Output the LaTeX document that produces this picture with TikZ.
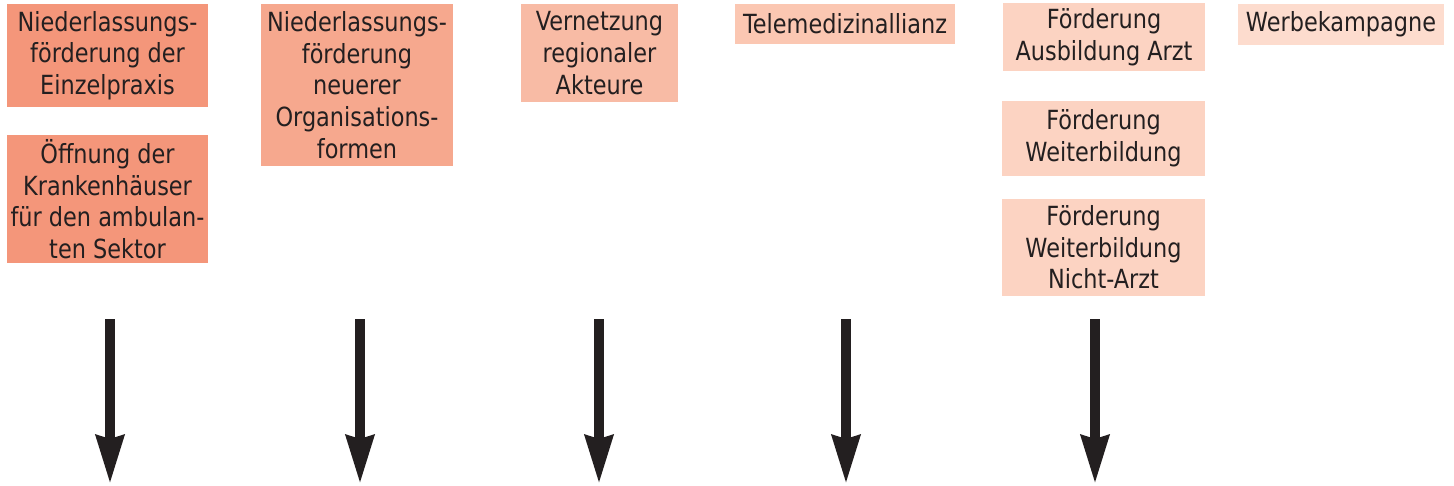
\documentclass[tikz,border=0pt]{standalone}
\usepackage{fontspec}
\setmainfont{DejaVu Sans}[FakeStretch=0.85]
\usetikzlibrary{arrows.meta}
\newlength\pxu
\setlength\pxu{0.02cm}
\definecolor{ink}{HTML}{231F20}
\definecolor{tone1}{HTML}{F4967A}
\definecolor{tone2}{HTML}{F6A88E}
\definecolor{tone3}{HTML}{F8BBA5}
\definecolor{tone4}{HTML}{FBC7B2}
\definecolor{tone5}{HTML}{FCD3C2}
\definecolor{tone6}{HTML}{FDDCCE}
\tikzset{
  measure/.style={inner sep=0pt, align=center, text=ink,
    font={\fontsize{15}{18}\selectfont}},
  downarrow/.style={draw=ink, line width=0.2cm,
    -{Stealth[length=0.96cm, width=0.54cm, inset=0.06cm]}}
}
\begin{document}
\begin{tikzpicture}[x=1\pxu, y=-1\pxu]
        \useasboundingbox (0,0) rectangle (1454,486);

        % Massnahmen
        \node[measure, fill=tone1, minimum width=201\pxu, minimum height=103\pxu] (einzel) at (107.5,55.5)
            {Niederlassungs-\\förderung der\\Einzelpraxis};
        \node[measure, fill=tone1, minimum width=201\pxu, minimum height=128\pxu] (kh) at (107.5,199)
            {Öffnung der\\Krankenhäuser\\für den ambulan-\\ten Sektor};
        \node[measure, fill=tone2, minimum width=192\pxu, minimum height=162\pxu] (orga) at (357,85)
            {Niederlassungs-\\förderung\\neuerer\\Organisations-\\formen};
        \node[measure, fill=tone3, minimum width=157\pxu, minimum height=98\pxu] (netz) at (599.5,53)
            {Vernetzung\\regionaler\\Akteure};
        \node[measure, fill=tone4, minimum width=220\pxu, minimum height=40\pxu] (tele) at (845,24)
            {Telemedizinallianz};
        \node[measure, fill=tone5, minimum width=202\pxu, minimum height=68\pxu] (ausb) at (1104,37)
            {Förderung\\Ausbildung Arzt};
        \node[measure, fill=tone5, minimum width=203\pxu, minimum height=75\pxu] (weiter) at (1103.5,138.5)
            {Förderung\\Weiterbildung};
        \node[measure, fill=tone5, minimum width=203\pxu, minimum height=97\pxu] (nichtarzt) at (1103.5,247.5)
            {Förderung\\Weiterbildung\\Nicht-Arzt};
        \node[measure, fill=tone6, minimum width=206\pxu, minimum height=41\pxu] (werbung) at (1341,24.5)
            {Werbekampagne};

        % Pfeile
        \coordinate (p1) at (110,319);  \coordinate (q1) at (110,484);
        \coordinate (p2) at (360,319);  \coordinate (q2) at (360,484);
        \coordinate (p3) at (599,319);  \coordinate (q3) at (599,484);
        \coordinate (p4) at (846,319);  \coordinate (q4) at (846,484);
        \coordinate (p5) at (1095,319); \coordinate (q5) at (1095,484);
        \draw[downarrow] (p1) -- (q1);
        \draw[downarrow] (p2) -- (q2);
        \draw[downarrow] (p3) -- (q3);
        \draw[downarrow] (p4) -- (q4);
        \draw[downarrow] (p5) -- (q5);
\end{tikzpicture}
\end{document}
